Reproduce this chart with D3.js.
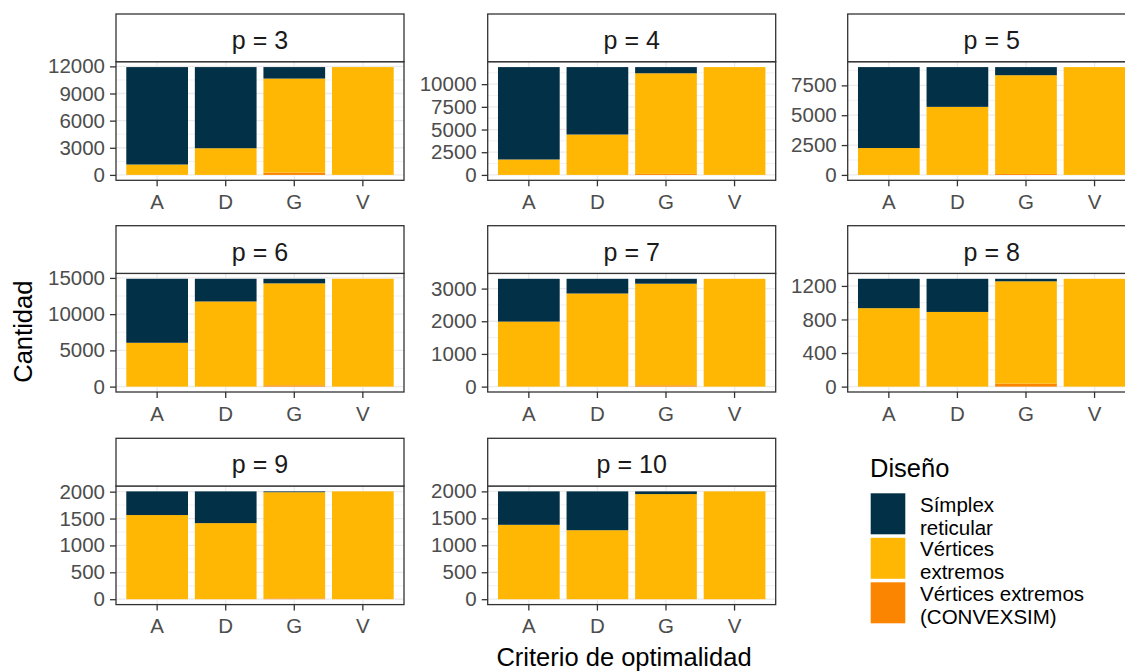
<!DOCTYPE html>
<html>
<head>
<meta charset="utf-8">
<script src="https://cdn.jsdelivr.net/npm/d3@7"></script>
<style>
  html, body { margin: 0; padding: 0; background: #ffffff; overflow: hidden; }
  svg { display: block; font-family: "Liberation Sans", Arial, sans-serif; }
</style>
</head>
<body>
<svg id="chart" width="1125" height="671"></svg>
<script>
// Facet labels (one panel per number of components p)
const panels = ["p = 3", "p = 4", "p = 5", "p = 6", "p = 7", "p = 8", "p = 9", "p = 10"];
// Optimality criteria on the x axis
const criteria = ["A", "D", "G", "V"];

// Counts per panel, in criteria order A, D, G, V
const convexsim = [
  [0, 0, 250, 0],
  [0, 0, 110, 0],
  [0, 0, 80, 0],
  [0, 0, 180, 0],
  [0, 0, 40, 0],
  [0, 0, 35, 0],
  [0, 0, 15, 0],
  [0, 0, 0, 0]
];
const vertices = [
  [1150, 2950, 10400, 11920],
  [1700, 4450, 11090, 11880],
  [2250, 5700, 8270, 9030],
  [6050, 11750, 14070, 14880],
  [1990, 2850, 3110, 3300],
  [935, 890, 1220, 1285],
  [1565, 1415, 1975, 2005],
  [1380, 1280, 1950, 2000]
];
const simplex = [
  [10770, 8970, 1270, 0],
  [10180, 7430, 680, 0],
  [6780, 3330, 680, 0],
  [8830, 3130, 630, 0],
  [1310, 450, 150, 0],
  [350, 395, 30, 0],
  [440, 590, 15, 0],
  [620, 720, 50, 0]
];

// Y-axis breaks for each panel (free scales)
const yTicks = [
  [0, 3000, 6000, 9000, 12000],
  [0, 2500, 5000, 7500, 10000],
  [0, 2500, 5000, 7500],
  [0, 5000, 10000, 15000],
  [0, 1000, 2000, 3000],
  [0, 400, 800, 1200],
  [0, 500, 1000, 1500, 2000],
  [0, 500, 1000, 1500, 2000]
];

// Legend entries (top to bottom) and fill colours
const legendTitle = "Diseño";
const legendLabels = [["Símplex", "reticular"], ["Vértices", "extremos"], ["Vértices extremos", "(CONVEXSIM)"]];
const seriesKeys = ["simplex", "vertices", "convexsim"];
const seriesColors = { simplex: "#023047", vertices: "#FFB703", convexsim: "#FB8500" };

const xTitle = "Criterio de optimalidad";
const yTitle = "Cantidad";

// ---- layout ----
const colLeft = [116, 487.7, 847.7];
const rowTop = [14, 225.7, 438.3];
const panelW = 288;
const stripH = 47.7;
const panelH = 118.6;

const svg = d3.select("#chart");
svg.append("rect").attr("width", 1125).attr("height", 671).attr("fill", "#ffffff");

const stackGen = d3.stack().keys(["convexsim", "vertices", "simplex"]);

panels.forEach((label, i) => {
  const col = i % 3, row = Math.floor(i / 3);
  const left = colLeft[col];
  const stripTop = rowTop[row];
  const top = stripTop + stripH;
  const bottom = top + panelH;

  const rows = criteria.map((c, j) => ({
    criterio: c,
    convexsim: convexsim[i][j],
    vertices: vertices[i][j],
    simplex: simplex[i][j]
  }));
  const stacked = stackGen(rows);
  const maxTotal = d3.max(rows, r => r.convexsim + r.vertices + r.simplex);

  const x = d3.scaleBand().domain(criteria).range([left, left + panelW])
    .paddingInner(0.1).paddingOuter(0.15);
  const y = d3.scaleLinear().domain([-0.05 * maxTotal, 1.05 * maxTotal]).range([bottom, top]);

  const g = svg.append("g");

  // panel background
  g.append("rect").attr("x", left).attr("y", top).attr("width", panelW).attr("height", panelH)
    .attr("fill", "#ffffff");

  // minor grid lines: halfway between breaks, within the panel range
  const ticks = yTicks[i];
  const step = ticks[1] - ticks[0];
  const minor = [];
  for (let k = 0; k < ticks.length; k++) {
    const v = ticks[k] + step / 2;
    if (v <= y.domain()[1]) minor.push(v);
  }
  g.selectAll(".minor").data(minor).enter().append("line")
    .attr("x1", left).attr("x2", left + panelW)
    .attr("y1", d => y(d)).attr("y2", d => y(d))
    .attr("stroke", "#EBEBEB").attr("stroke-width", 0.7);

  // major grid lines
  g.selectAll(".major").data(ticks).enter().append("line")
    .attr("x1", left).attr("x2", left + panelW)
    .attr("y1", d => y(d)).attr("y2", d => y(d))
    .attr("stroke", "#EBEBEB").attr("stroke-width", 1.3);
  g.selectAll(".vmajor").data(criteria).enter().append("line")
    .attr("x1", d => x(d) + x.bandwidth() / 2).attr("x2", d => x(d) + x.bandwidth() / 2)
    .attr("y1", top).attr("y2", bottom)
    .attr("stroke", "#EBEBEB").attr("stroke-width", 1.3);

  // stacked bars
  stacked.forEach(layer => {
    g.selectAll(null).data(layer).enter().append("rect")
      .attr("x", d => x(d.data.criterio))
      .attr("width", x.bandwidth())
      .attr("y", d => y(d[1]))
      .attr("height", d => Math.max(0, y(d[0]) - y(d[1])))
      .attr("fill", seriesColors[layer.key]);
  });

  // panel border
  g.append("rect").attr("x", left).attr("y", top).attr("width", panelW).attr("height", panelH)
    .attr("fill", "none").attr("stroke", "#333333").attr("stroke-width", 1.3);

  // strip
  g.append("rect").attr("x", left).attr("y", stripTop).attr("width", panelW).attr("height", stripH)
    .attr("fill", "#ffffff").attr("stroke", "#333333").attr("stroke-width", 1.3);
  g.append("text").attr("x", left + panelW / 2).attr("y", stripTop + 35)
    .attr("text-anchor", "middle").attr("font-size", 25).attr("fill", "#1A1A1A").text(label);

  // y axis
  const yAxis = d3.axisLeft(y).tickValues(ticks).tickFormat(d3.format("d"))
    .tickSize(6).tickPadding(5).tickSizeOuter(0);
  const ya = g.append("g").attr("transform", `translate(${left},0)`).call(yAxis);
  ya.select(".domain").remove();
  ya.selectAll(".tick line").attr("stroke", "#333333").attr("stroke-width", 1.3);
  ya.selectAll(".tick text").attr("font-size", 20.5).attr("fill", "#4D4D4D")
    .attr("font-family", "'Liberation Sans', Arial, sans-serif");

  // x axis
  const xAxis = d3.axisBottom(x).tickSize(6).tickPadding(8).tickSizeOuter(0);
  const xa = g.append("g").attr("transform", `translate(0,${bottom})`).call(xAxis);
  xa.select(".domain").remove();
  xa.selectAll(".tick line").attr("stroke", "#333333").attr("stroke-width", 1.3);
  xa.selectAll(".tick text").attr("font-size", 20.5).attr("fill", "#4D4D4D")
    .attr("font-family", "'Liberation Sans', Arial, sans-serif");
});

// axis titles
svg.append("text").attr("x", 624).attr("y", 666).attr("text-anchor", "middle")
  .attr("font-size", 25.5).attr("fill", "#000000").text(xTitle);
svg.append("text").attr("transform", "translate(32,331.7) rotate(-90)").attr("text-anchor", "middle")
  .attr("font-size", 25.5).attr("fill", "#000000").text(yTitle);

// legend
const lg = svg.append("g");
lg.append("text").attr("x", 870).attr("y", 477.3).attr("font-size", 25.5).attr("fill", "#000000")
  .text(legendTitle);
const keyTops = [493.3, 537.8, 582.3];
seriesKeys.forEach((k, j) => {
  lg.append("rect").attr("x", 870.7).attr("y", keyTops[j]).attr("width", 34.6).attr("height", 41)
    .attr("fill", seriesColors[k]);
  const t = lg.append("text").attr("x", 920).attr("y", keyTops[j] + 18.2)
    .attr("font-size", 20.5).attr("fill", "#000000");
  legendLabels[j].forEach((line, m) => {
    t.append("tspan").attr("x", 920).attr("dy", m === 0 ? 0 : 23.2).text(line);
  });
});
</script>
</body>
</html>
